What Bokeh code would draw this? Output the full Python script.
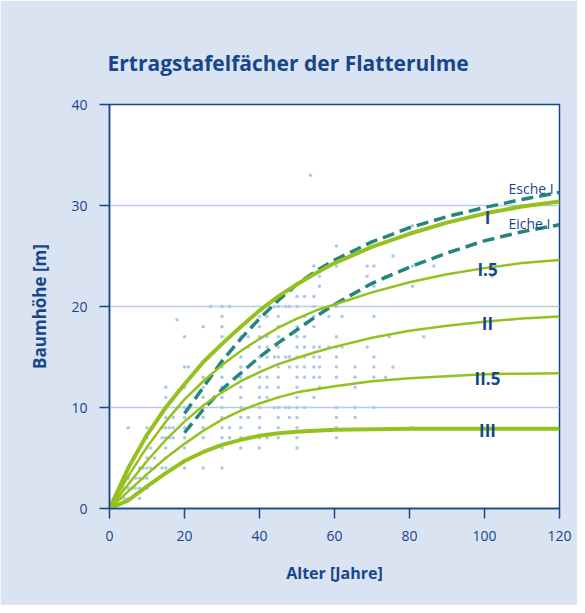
from bokeh.plotting import figure
from bokeh.models import Range1d, FixedTicker, Label
from bokeh.embed import file_html
from bokeh.resources import INLINE

# ---- data ----
ages = [0, 5, 10, 15, 20, 25, 30, 35, 40, 45, 50, 55, 60, 70, 80, 90, 100, 110, 120]
h_I = [0, 4.0, 7.3, 10.0, 12.3, 14.5, 16.3, 18.0, 19.6, 21.0, 22.2, 23.3, 24.3, 25.9, 27.2, 28.3, 29.2, 29.9, 30.4]
h_I5 = [0, 3.2, 6.1, 8.6, 10.8, 12.6, 14.2, 15.6, 16.8, 17.9, 18.8, 19.6, 20.2, 21.4, 22.4, 23.2, 23.8, 24.3, 24.6]
h_II = [0, 2.4, 4.7, 6.8, 8.6, 10.2, 11.5, 12.6, 13.5, 14.3, 14.9, 15.5, 16.0, 16.9, 17.6, 18.1, 18.5, 18.8, 19.0]
h_II5 = [0, 1.7, 3.4, 5.0, 6.4, 7.7, 8.8, 9.7, 10.4, 11.0, 11.5, 11.8, 12.1, 12.6, 12.9, 13.1, 13.3, 13.35, 13.4]
h_III = [0, 0.8, 2.2, 3.5, 4.7, 5.6, 6.3, 6.8, 7.2, 7.45, 7.6, 7.7, 7.8, 7.85, 7.9, 7.9, 7.9, 7.9, 7.9]

ref_ages = [20, 25, 30, 35, 40, 45, 50, 55, 60, 70, 80, 90, 100, 110, 120]
h_esche = [9.4, 12.0, 14.6, 16.8, 18.8, 20.6, 22.2, 23.5, 24.6, 26.4, 27.8, 28.9, 29.8, 30.6, 31.3]
h_eiche = [7.5, 9.8, 11.8, 13.4, 15.0, 16.4, 17.7, 19.0, 20.2, 22.3, 23.9, 25.3, 26.5, 27.4, 28.1]

site_labels = ["I", "I.5", "II", "II.5", "III"]
ref_labels = ["Esche I", "Eiche I"]

# observed trees: one age per column with its heights
obs_columns = [
    (2, [1]), (3, [1, 2]), (4, [1, 2, 3]), (5, [1, 2, 3, 8]), (6, [2]),
    (7, [2, 3]), (8, [1, 2, 3, 4]), (9, [3, 4]), (10, [2, 3, 4, 5, 6, 7, 8]),
    (11, [4, 6]), (12, [4, 5]), (14, [4, 7, 8]),
    (15, [4, 5, 6, 7, 8, 9, 10, 11, 12]), (16, [7, 8]), (17, [7, 8, 9]),
    (18, [18.7]), (20, [4, 6, 7, 8, 9, 10, 12, 14, 17]), (21, [14]),
    (25, [4, 7, 8, 9, 10, 11, 12, 13, 18]), (27, [20]),
    (30, [4, 6, 7, 8, 9, 10, 11, 12, 13, 14, 17, 18, 19, 20]), (32, [7, 8, 20]),
    (35, [6, 7, 8, 9, 10, 11, 12, 13, 14, 15, 17, 18]), (37, [9, 13, 16, 17]),
    (40, [6, 7, 8, 9, 10, 11, 12, 13, 14, 15, 16, 17, 18, 19]),
    (42, [7, 11, 12, 13, 15, 16, 17, 19]), (44, [10, 15, 20]),
    (45, [7, 8, 9, 10, 11, 12, 13, 14, 15, 16, 17, 18, 19, 20]),
    (47, [10, 15, 20]), (48, [9, 10, 14, 15, 20]),
    (50, [6, 7, 8, 9, 10, 11, 12, 13, 14, 15, 16, 17, 18, 20, 21]),
    (52, [10, 13, 14, 15, 16, 17, 19, 21]), (53.6, [33]),
    (54.5, [11, 13, 14, 15, 16, 18, 19, 20, 21, 24]),
    (56, [12, 13, 14, 15, 16, 22, 23]), (58.5, [16, 19]),
    (60.5, [7, 8, 9, 10, 13, 14, 15, 16, 17, 20, 24, 26]), (62, [16, 19]),
    (65.5, [9, 10, 12, 13, 14]), (68.7, [16, 23, 24]),
    (70.5, [10, 13, 14, 15, 19, 22, 24]), (73.6, [13, 23]), (74.6, [17]),
    (75.6, [14, 25]), (80.8, [8, 22, 24, 28]), (83.8, [17]), (86.5, [24]),
    (102, [23]),
]
obs_age = [a for a, hs in obs_columns for _ in hs]
obs_height = [h for a, hs in obs_columns for h in hs]

# ---- styles ----
DARK = "#17468a"
GREEN = "#95c11f"
TEAL = "#24857f"
DOT = "#a9c8ec"
GRID = "#b8cce6"
PANEL = "#dae3f1"
FONT = "Open Sans"

p = figure(width=577, height=605, output_backend="svg", toolbar_location=None,
           x_range=Range1d(0, 120), y_range=Range1d(0, 40),
           min_border_left=109, min_border_right=18, min_border_top=104,
           min_border_bottom=97)
p.border_fill_color = PANEL
p.background_fill_color = "white"
p.outline_line_color = DARK
p.outline_line_width = 1.5
p.outline_line_alpha = 1

p.title.text = "Ertragstafelfächer der Flatterulme"
p.title.text_font = FONT
p.title.text_font_size = "21px"
p.title.text_font_style = "bold"
p.title.text_color = DARK
p.title.align = "left"
p.title.offset = -2
p.title.standoff = 55

p.xgrid.visible = False
p.ygrid.ticker = FixedTicker(ticks=[10, 20, 30])
p.ygrid.grid_line_color = GRID
p.ygrid.grid_line_width = 1.5

p.xaxis.ticker = FixedTicker(ticks=[0, 20, 40, 60, 80, 100, 120])
p.yaxis.ticker = FixedTicker(ticks=[0, 10, 20, 30, 40])
for ax in (p.xaxis, p.yaxis):
    ax.axis_line_color = DARK
    ax.axis_line_width = 1.5
    ax.major_tick_line_color = DARK
    ax.major_tick_line_width = 1.5
    ax.major_tick_in = 0
    ax.major_tick_out = 10
    ax.minor_tick_line_color = None
    ax.major_label_text_font = FONT
    ax.major_label_text_font_size = "14px"
    ax.major_label_text_color = DARK
    ax.axis_label_text_font = FONT
    ax.axis_label_text_font_style = "bold"
    ax.axis_label_text_color = DARK
p.xaxis.axis_label = "Alter [Jahre]"
p.yaxis.axis_label = "Baumhöhe [m]"
p.xaxis.axis_label_text_font_size = "16px"
p.yaxis.axis_label_text_font_size = "17px"
p.xaxis.major_label_standoff = 12
p.yaxis.major_label_standoff = 12
p.xaxis.axis_label_standoff = 18
p.yaxis.axis_label_standoff = 17

# observations
p.scatter(obs_age, obs_height, size=3.5, color=DOT, line_color=None)

# reference species (dashed)
p.line(ref_ages, h_esche, line_color=TEAL, line_width=3.5, line_dash="12 6")
p.line(ref_ages, h_eiche, line_color=TEAL, line_width=3.5, line_dash="12 6")

# yield class curves
for hs, w in ((h_I, 4), (h_I5, 2.5), (h_II, 2.5), (h_II5, 2.5), (h_III, 4)):
    p.line(ages, hs, line_color=GREEN, line_width=w, line_join="round")

# labels
label_y = [28.8, 23.7, 18.3, 12.9, 7.7]
for txt, y in zip(site_labels, label_y):
    p.add_layout(Label(x=100.8, y=y, text=txt, text_align="center",
                       text_baseline="middle", text_font=FONT,
                       text_font_size="17px", text_font_style="bold",
                       text_color=DARK))
for txt, y in zip(ref_labels, [31.7, 28.2]):
    p.add_layout(Label(x=106.4, y=y, text=txt, text_align="left",
                       text_baseline="middle", text_font=FONT,
                       text_font_size="14px", text_color=DARK))

open("out.html", "w").write(file_html(p, INLINE))
